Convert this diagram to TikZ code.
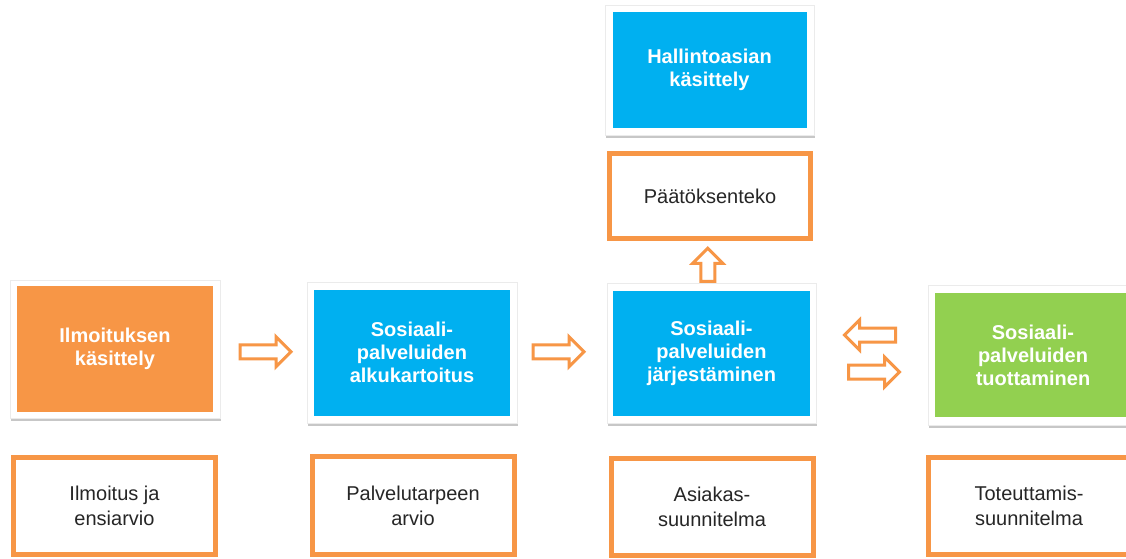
\documentclass[tikz,border=0pt]{standalone}
\usepackage{fontspec}
\setmainfont{Liberation Sans}
\usepackage{tikz}
\usetikzlibrary{positioning, calc, shapes.arrows, shadows}

\definecolor{stepOrange}{HTML}{F79646}
\definecolor{stepBlue}{HTML}{00B0F0}
\definecolor{stepGreen}{HTML}{92D050}

\begin{document}
\begin{tikzpicture}[x=1pt, y=-1pt,
    frame/.style={rectangle, fill=white, draw=black!8, line width=0.6pt, inner sep=0pt,
      minimum width=210pt, minimum height=140pt,
      drop shadow={shadow xshift=1pt, shadow yshift=-2.5pt, fill=black, opacity=0.22}},
    stepbox/.style={rectangle, inner sep=0pt, text=white, align=center,
      font=\fontsize{20}{23}\selectfont\bfseries, minimum width=196pt, minimum height=126pt},
    notebox/.style={rectangle, draw=stepOrange, line width=5pt, fill=white, text=black!85,
      align=center, font=\fontsize{20}{25}\selectfont, minimum width=202pt, minimum height=97pt},
    hollow/.style={single arrow, draw=stepOrange, line width=3pt, fill=white,
      inner xsep=0pt, inner ysep=5.5pt, minimum height=51pt, single arrow head extend=8pt}]
    \useasboundingbox (0,0) rectangle (1126,558);
    \fill[white] (0,0) rectangle (1126,558);

    % Top column
    \node[frame, minimum width=209pt, minimum height=130pt] (hallf) at (709.5,70) {};
    \node[stepbox, fill=stepBlue, minimum width=194pt, minimum height=116pt] (hall) at (hallf) {Hallintoasian\\käsittely};
    \node[notebox, minimum width=201pt, minimum height=85pt] (paat) at (710,196) {Päätöksenteko};

    % Main row
    \node[frame, minimum height=138pt] (ilmf) at (115,349) {};
    \node[stepbox, fill=stepOrange] (ilm) at (ilmf) {Ilmoituksen\\käsittely};
    \node[frame, minimum height=141pt] (alkf) at (412,352.5) {};
    \node[stepbox, fill=stepBlue] (alk) at (alkf) {Sosiaali-\\palveluiden\\alkukartoitus};
    \node[frame, minimum width=209pt] (jarjf) at (711.5,353) {};
    \node[stepbox, fill=stepBlue, minimum width=197pt, minimum height=125pt] (jarj) at (jarjf) {Sosiaali-\\palveluiden\\järjestäminen};
    \node[frame] (tuotf) at (1033,355) {};
    \node[stepbox, fill=stepGreen, minimum height=124pt] (tuot) at (tuotf) {Sosiaali-\\palveluiden\\tuottaminen};

    % Bottom row
    \node[notebox] (ilmn) at (114.5,506) {Ilmoitus ja\\ensiarvio};
    \node[notebox, minimum height=98pt] (alkn) at (413,505.5) {Palvelutarpeen\\arvio};
    \node[notebox] (jarjn) at (712,507) {Asiakas-\\suunnitelma};
    \node[notebox] (tuotn) at (1029,506) {Toteuttamis-\\suunnitelma};

    % Block arrows
    \node[hollow] (a1) at ($(ilmf.east)!0.5!(alkf.west)+(-1.5,1)$) {};
    \node[hollow] (a2) at ($(alkf.east)!0.5!(jarjf.west)+(-7,-1)$) {};
    \node[hollow, rotate=90, minimum height=33pt] (a3) at ($(paat.south)!0.5!(jarjf.north)+(-3,6.5)$) {};
    \node[hollow, rotate=180] (a4) at ($(jarjf.east)!0.5!(tuotf.west)+(1.5,-19)$) {};
    \node[hollow] (a5) at ($(jarjf.east)!0.5!(tuotf.west)+(-1.5,18)$) {};
\end{tikzpicture}
\end{document}
